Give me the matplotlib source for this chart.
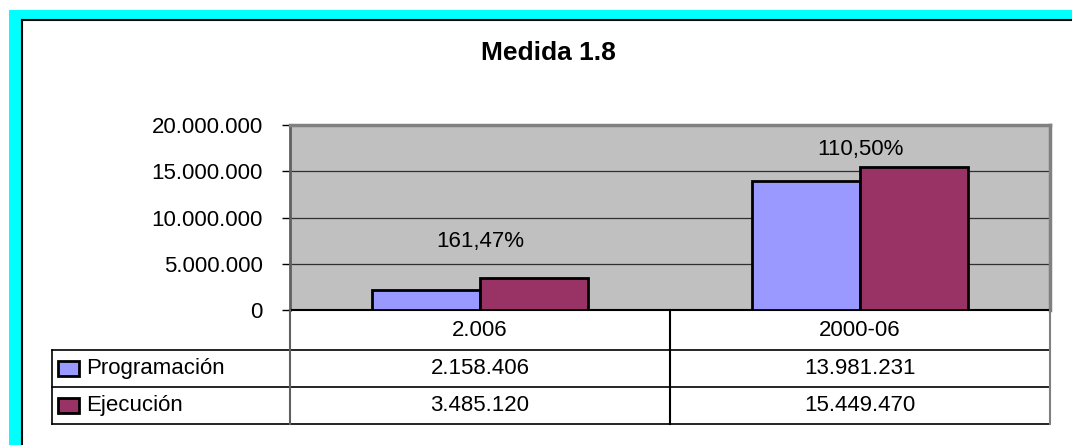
import matplotlib
matplotlib.use("Agg")
import matplotlib.pyplot as plt
from matplotlib.lines import Line2D
from matplotlib.patches import Rectangle
import numpy as np

# ---- data ----
categories = ["2.006", "2000-06"]
series_names = ["Programación", "Ejecución"]
programacion = [2158406, 13981231]
ejecucion = [3485120, 15449470]
pct_labels = ["161,47%", "110,50%"]
pct_label_y = [7.45e6, 17.4e6]
yticks = [0, 5000000, 10000000, 15000000, 20000000]
title = "Medida 1.8"

colors = ["#9999FF", "#993366"]
W, H = 1072, 445
FONT = "Liberation Sans"
FS = 16

def fmt(v):
    return f"{int(v):,}".replace(",", ".")

def fx(x):
    return x / W

def fy(y):
    return 1 - y / H

fig = plt.figure(figsize=(W / 100, H / 100), dpi=100)
fig.patch.set_facecolor("white")

# cyan frame (top and left) with black inner line
fig.add_artist(Rectangle((fx(9), fy(20)), fx(W - 9), fy(10) - fy(20),
                         transform=fig.transFigure, color="#00FFFF", lw=0))
fig.add_artist(Rectangle((fx(9), 0), fx(22) - fx(9), fy(10),
                         transform=fig.transFigure, color="#00FFFF", lw=0))
fig.add_artist(Line2D([fx(22), 1], [fy(20), fy(20)], transform=fig.transFigure,
                      color="black", lw=1.5))
fig.add_artist(Line2D([fx(22), fx(22)], [0, fy(20)], transform=fig.transFigure,
                      color="black", lw=1.5))

# plot area
L, R, T, B = 290, 1050, 125, 310
ax = fig.add_axes([fx(L), fy(B), fx(R) - fx(L), fy(T) - fy(B)])
ax.set_facecolor("#C0C0C0")

x = np.arange(len(categories))
w = 0.285
ax.bar(x - w / 2, programacion, w, color=colors[0], edgecolor="black", lw=2, zorder=3)
ax.bar(x + w / 2, ejecucion, w, color=colors[1], edgecolor="black", lw=2, zorder=3)

for xi, lab, yy in zip(x, pct_labels, pct_label_y):
    ax.text(xi, yy, lab, ha="center", va="center", fontsize=FS, family=FONT, zorder=4)

ax.set_xlim(-0.5, len(categories) - 0.5)
ax.set_ylim(0, 20000000)
ax.set_yticks(yticks)
ax.set_yticklabels([fmt(v) for v in yticks], family=FONT, fontsize=FS)
ax.set_xticks([])
ax.tick_params(axis="y", length=6, width=1, pad=13.5, color="black")
for v in yticks[1:-1]:
    ax.axhline(v, color="#303030", lw=0.9, zorder=1)

ax.spines["top"].set_color("#808080")
ax.spines["top"].set_linewidth(2.5)
ax.spines["right"].set_color("#808080")
ax.spines["right"].set_linewidth(2.5)
ax.spines["left"].set_color("#606060")
ax.spines["left"].set_linewidth(2)
ax.spines["bottom"].set_color("black")
ax.spines["bottom"].set_linewidth(1.5)

fig.text(fx(548), fy(53), title, ha="center", va="center", fontsize=19,
         fontweight="bold", family=FONT)

# data table
row_lines = [350, 387, 424]
tbl_left = 52
col_x = [L, 670, R]
for ry in row_lines:
    fig.add_artist(Line2D([fx(tbl_left), fx(R)], [fy(ry), fy(ry)],
                          transform=fig.transFigure, color="black", lw=1.2))
fig.add_artist(Line2D([fx(tbl_left), fx(tbl_left)], [fy(350), fy(424)],
                      transform=fig.transFigure, color="black", lw=1.2))
for cx, c in zip(col_x, ["#606060", "black", "#808080"]):
    fig.add_artist(Line2D([fx(cx), fx(cx)], [fy(B), fy(424)],
                          transform=fig.transFigure, color=c, lw=1.5))

centers = [(col_x[i] + col_x[i + 1]) / 2 for i in range(len(categories))]
for cxx, cat in zip(centers, categories):
    fig.text(fx(cxx), fy(330), cat, ha="center", va="center", fontsize=FS, family=FONT)

row_centers = [368.5, 405.5]
for rc, name, vals, col in zip(row_centers, series_names, [programacion, ejecucion], colors):
    fig.add_artist(Rectangle((fx(58), fy(rc + 7.5)), fx(21), fy(0) - fy(15),
                             transform=fig.transFigure, facecolor=col,
                             edgecolor="black", lw=2))
    fig.text(fx(86), fy(rc), name, ha="left", va="center", fontsize=FS, family=FONT)
    for cxx, v in zip(centers, vals):
        fig.text(fx(cxx), fy(rc), fmt(v), ha="center", va="center", fontsize=FS, family=FONT)

fig.savefig("out.png", dpi=100)
